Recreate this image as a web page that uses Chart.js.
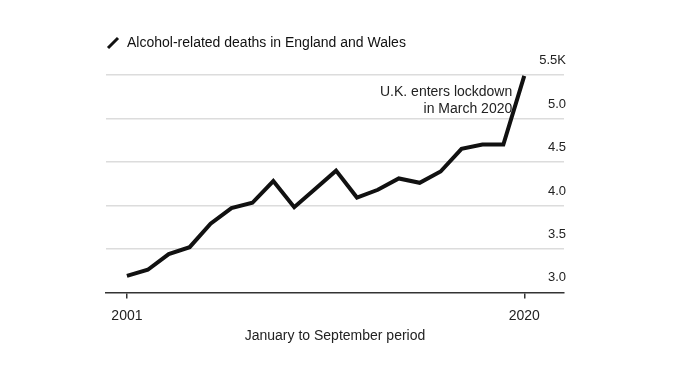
<!DOCTYPE html>
<html>
<head>
<meta charset="utf-8">
<script src="https://cdn.jsdelivr.net/npm/chart.js@4.4.1/dist/chart.umd.min.js"></script>
<style>
  html, body { margin: 0; padding: 0; background: #fff; }
  #wrap { width: 680px; height: 374px; }
</style>
</head>
<body>
<div id="wrap"><canvas id="deathsChart" width="680" height="374"></canvas></div>
<script>
// values, thousands of deaths, Jan-Sep of each year
const years = [2001, 2002, 2003, 2004, 2005, 2006, 2007, 2008, 2009, 2010,
               2011, 2012, 2013, 2014, 2015, 2016, 2017, 2018, 2019, 2020];
const deaths = [3.19, 3.26, 3.44, 3.52, 3.79, 3.97, 4.03, 4.28, 3.98, 4.19,
                4.40, 4.09, 4.18, 4.31, 4.26, 4.39, 4.65, 4.70, 4.70, 5.49];
const yTicks = [3.0, 3.5, 4.0, 4.5, 5.0, 5.5];
const yTickLabels = ["3.0", "3.5", "4.0", "4.5", "5.0", "5.5K"];
const xTicks = [2001, 2020];
const seriesLabel = "Alcohol-related deaths in England and Wales";
const xTitle = "January to September period";
const noteLines = ["U.K. enters lockdown", "in March 2020"];

const fontFamily = '"Liberation Sans", Arial, Helvetica, sans-serif';
Chart.defaults.font.family = fontFamily;

// text note next to the 2020 jump
const lockdownNote = {
    id: "lockdownNote",
    afterDatasetsDraw(chart) {
        const { ctx, scales: { x, y } } = chart;
        const px = x.getPixelForValue(years[years.length - 1]) - 12;
        const py = y.getPixelForValue(5.3);
        ctx.save();
        ctx.font = "14px " + fontFamily;
        ctx.fillStyle = "#222";
        ctx.textAlign = "right";
        ctx.textBaseline = "middle";
        noteLines.forEach((line, i) => ctx.fillText(line, px, py + i * 16.6));
        ctx.restore();
    }
};

const ctx = document.getElementById("deathsChart").getContext("2d");
const deathsChart = new Chart(ctx, {
    type: "line",
    data: {
        datasets: [{
            label: seriesLabel,
            data: years.map((yr, i) => ({ x: yr, y: deaths[i] })),
            borderColor: "#111",
            backgroundColor: "#111",
            borderWidth: 4,
            borderJoinStyle: "miter",
            tension: 0,
            fill: false,
            pointRadius: 0,
            pointHoverRadius: 0,
            pointStyle: "line",
            pointRotation: -45
        }]
    },
    options: {
        responsive: false,
        animation: false,
        devicePixelRatio: 1,
        layout: { padding: { top: 36, left: 106, right: 112, bottom: 29 } },
        plugins: {
            tooltip: { enabled: false },
            legend: {
                position: "top",
                align: "start",
                labels: {
                    usePointStyle: true,
                    boxWidth: 14,
                    boxHeight: 10,
                    padding: 0,
                    color: "#111",
                    font: { size: 14 },
                    generateLabels: chart => Chart.defaults.plugins.legend.labels.generateLabels(chart)
                        .map(item => ({ ...item, lineWidth: 3 }))
                }
            }
        },
        scales: {
            x: {
                type: "linear",
                min: 2000,
                max: 2021.9,
                afterBuildTicks: s => { s.ticks = xTicks.map(v => ({ value: v })); },
                grid: { drawOnChartArea: false, drawTicks: true, tickLength: 6, color: "#333", lineWidth: 1.5 },
                border: { display: true, color: "#333", width: 1.5 },
                ticks: {
                    callback: v => String(v),
                    padding: 9,
                    color: "#222",
                    font: { size: 14 },
                    maxRotation: 0,
                    autoSkip: false
                },
                title: {
                    display: true,
                    text: xTitle,
                    color: "#222",
                    font: { size: 14 },
                    padding: { top: -5, bottom: 0 }
                }
            },
            y: {
                position: "right",
                min: 3.0,
                max: 5.672,
                afterBuildTicks: s => { s.ticks = yTicks.map(v => ({ value: v })); },
                grid: {
                    drawTicks: false,
                    lineWidth: 1.5,
                    color: c => (c.tick && c.tick.value === 3.0) ? "rgba(0,0,0,0)" : "#dcdcdc"
                },
                border: { display: false },
                ticks: {
                    mirror: true,
                    padding: 2,
                    labelOffset: -14.5,
                    color: "#222",
                    font: { size: 13 },
                    callback: (v, i) => yTickLabels[i]
                }
            }
        }
    },
    plugins: [lockdownNote]
});
</script>
</body>
</html>
